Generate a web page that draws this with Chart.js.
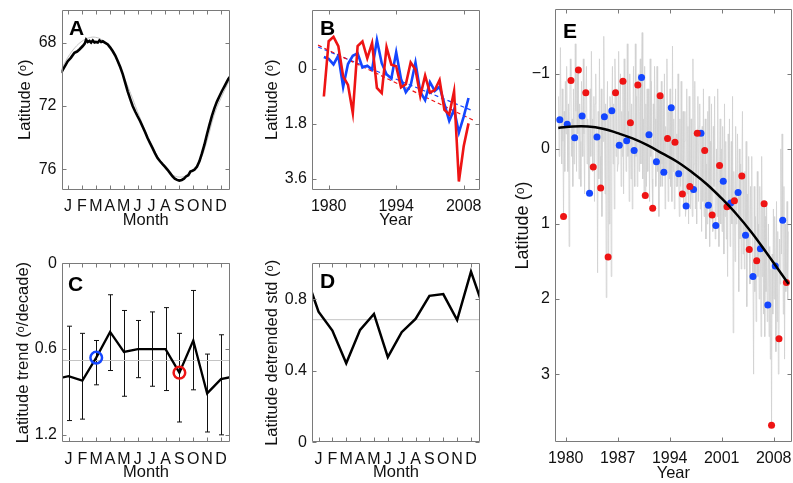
<!DOCTYPE html>
<html>
<head>
<meta charset="utf-8">
<script src="https://cdn.jsdelivr.net/npm/chart.js@4.4.1/dist/chart.umd.min.js"></script>
<style>
  html, body { margin: 0; background: #fff; }
  body { position: relative; width: 793px; height: 483px; overflow: hidden; }
  canvas { position: absolute; }
</style>
</head>
<body>
<canvas id="chartA"></canvas>
<canvas id="chartB"></canvas>
<canvas id="chartC"></canvas>
<canvas id="chartD"></canvas>
<canvas id="chartE"></canvas>
<script>
// ── Datos ──────────────────────────────────────────────────────────────────
const MONTH_LABELS = ['J', 'F', 'M', 'A', 'M', 'J', 'J', 'A', 'S', 'O', 'N', 'D'];
const MONTH_TICKS  = [1, 2, 3, 4, 5, 6, 7, 8, 9, 10, 11, 12];

// A: climatología diaria (mes fraccional, latitud)
const climMonth = [0.5, 0.98, 1.2, 1.46, 1.65, 1.82, 2.06, 2.2, 2.3, 2.42, 2.54, 2.66, 2.78, 2.9, 3.0,
  3.14, 3.26, 3.38, 3.5, 3.68, 3.86, 4.04, 4.22, 4.4, 4.58, 4.76, 4.94, 5.12, 5.29, 5.47, 5.65, 5.83,
  6.0, 6.18, 6.36, 6.54, 6.72, 6.9, 7.08, 7.26, 7.44, 7.62, 7.8, 7.98, 8.16, 8.34, 8.52, 8.68, 8.84,
  9.0, 9.18, 9.34, 9.49, 9.65, 9.8, 9.95, 10.09, 10.27, 10.45, 10.63, 10.81, 10.99, 11.17, 11.35,
  11.53, 11.71, 11.89, 12.07, 12.25, 12.4, 12.54, 12.65];
const climLat = [69.9, 69.16, 68.95, 68.63, 68.55, 68.42, 68.2, 68.05, 67.8, 67.95, 67.88, 67.98, 67.85,
  67.97, 67.94, 67.98, 67.85, 67.95, 67.9, 68.0, 68.1, 68.3, 68.53, 68.8, 69.16, 69.55, 70.0, 70.55,
  71.07, 71.55, 72.0, 72.35, 72.65, 72.95, 73.3, 73.65, 74.03, 74.35, 74.67, 75.0, 75.3, 75.5, 75.68,
  75.85, 76.04, 76.25, 76.46, 76.6, 76.68, 76.72, 76.68, 76.6, 76.46, 76.38, 76.15, 76.1, 76.04, 75.85,
  75.5, 75.0, 74.45, 73.8, 73.19, 72.62, 72.13, 71.72, 71.38, 71.05, 70.75, 70.5, 70.27, 70.15];
const climFitMonth = [0.5, 1.0, 1.5, 2.0, 2.5, 3.0, 3.5, 4.0, 4.5, 5.0, 5.5, 6.0, 6.5, 7.0, 7.5, 8.0,
  8.5, 9.0, 9.5, 10.0, 10.5, 11.0, 11.5, 12.0, 12.65];
const climFitLat = [69.7, 68.9, 68.3, 67.9, 67.68, 67.65, 67.85, 68.35, 69.1, 70.1, 71.2, 72.35, 73.45,
  74.45, 75.3, 75.95, 76.35, 76.5, 76.4, 76.0, 75.45, 74.2, 72.6, 71.5, 70.3];

// B/E: anomalías de marzo (azul) y septiembre (rojo)
const YEARS = [1979, 1980, 1981, 1982, 1983, 1984, 1985, 1986, 1987, 1988, 1989, 1990, 1991, 1992,
  1993, 1994, 1995, 1996, 1997, 1998, 1999, 2000, 2001, 2002, 2003, 2004, 2005, 2006, 2007, 2008, 2009];
const marchAnom = [-0.39, -0.33, -0.15, -0.44, 0.59, -0.16, -0.43, -0.51, -0.05, -0.11, 0.02, -0.95,
  -0.19, 0.17, 0.31, -0.55, 0.33, 0.76, 0.54, -0.21, 0.75, 1.02, 0.43, 0.72, 0.58, 1.15, 1.70, 1.33,
  2.08, 1.56, 0.95];
const septAnom = [0.90, -0.91, -1.05, -0.75, 0.24, 0.52, 1.44, -0.75, -0.90, -0.35, -0.85, 0.62, 0.79,
  -0.71, -0.14, -0.09, 0.60, 0.50, -0.21, 0.02, 0.88, 0.22, 0.77, 0.69, 0.36, 1.34, 1.49, 0.73, 3.68,
  2.53, 1.78];
const trendYears = [1977.8, 2009.9];
const marchTrend = [-0.72, 1.37];
const septTrend  = [-0.78, 1.67];

// C: tendencia por mes e intervalos
const trendByMonth = [0.79, 0.82, 0.66, 0.48, 0.62, 0.60, 0.60, 0.60, 0.765, 0.54, 0.91, 0.81];
const trendCiTop   = [0.44, 0.49, 0.54, 0.22, 0.33, 0.40, 0.34, 0.31, 0.49, 0.19, 0.635, 0.50];
const trendCiBot   = [1.10, 1.09, 0.85, 0.75, 0.93, 0.80, 0.86, 0.89, 1.11, 0.885, 1.18, 1.20];
const trendMean    = 0.68;
const ringMonths   = [3, 9];

// D: desviación estándar sin tendencia
const stdByMonth = [0.73, 0.624, 0.442, 0.628, 0.717, 0.476, 0.615, 0.689, 0.818, 0.828, 0.683, 0.953];
const stdMean    = 0.685;

// E: serie mensual (J..D por año) y ajuste
const monthlyAnom = [
  [-0.7, 0.1, -0.39, -1.35, -0.4, 0.2, -0.8, -0.1, 0.90, -0.5, 0.3, -0.9],
  [-0.2, -1.1, -0.33, 0.3, -0.6, 1.3, -0.5, -1.2, -0.91, 0.1, -0.4, 0.5],
  [-0.8, 0.2, -0.15, -1.4, -0.5, 0.3, -1.0, -0.2, -1.05, 0.4, -0.6, -0.1],
  [0.5, -0.9, -0.44, 0.1, -1.2, -0.2, 0.6, -0.5, -0.75, -1.1, 0.2, -0.4],
  [-0.3, 0.6, 0.59, -0.8, 0.1, -1.3, -0.4, 0.3, 0.24, -0.7, 0.7, -0.6],
  [-1.0, -0.2, -0.16, 1.65, -0.5, 0.4, -1.2, 0.1, 0.52, -0.8, 0.9, -0.4],
  [-0.1, -1.5, -0.43, 0.6, -0.6, 1.98, -0.2, -0.9, 1.44, -0.5, 1.0, -0.7],
  [-0.5, 1.7, -0.51, -1.1, 0.2, -0.6, 0.8, -1.2, -0.75, 0.1, -0.8, 0.3],
  [0.2, -1.3, -0.05, -0.4, -1.0, 0.5, -0.5, 0.1, -0.90, 0.6, -1.2, -0.2],
  [-0.9, 0.3, -0.11, -1.4, 0.1, -0.5, 0.7, -1.0, -0.35, 0.4, -0.6, 0.8],
  [-0.3, -1.1, 0.02, 0.5, -1.4, 0.1, -0.7, 0.5, -0.85, -1.0, 0.3, -0.5],
  [-1.2, 0.2, -0.95, -1.55, 0.4, -0.4, 0.6, -1.1, 0.62, -0.6, 0.5, -0.8],
  [0.3, -0.8, -0.19, 0.7, -1.2, 0.1, -0.9, 0.4, 0.79, -0.6, 0.0, -1.1],
  [-0.4, 0.5, 0.17, -1.1, 0.3, -0.7, 0.9, -0.5, -0.71, 0.5, -0.9, 0.2],
  [0.5, -0.7, 0.31, -1.0, 0.8, -0.3, 0.3, -1.2, -0.14, 0.7, -0.5, 0.4],
  [-0.8, 0.5, -0.55, 0.7, -1.37, 0.3, -0.4, 0.8, -0.09, -0.8, 0.5, -0.2],
  [0.5, -1.0, 0.33, 0.9, -0.4, 0.5, -0.9, 0.3, 0.60, -0.5, 0.8, -0.1],
  [-0.5, 0.9, 0.76, -0.8, 0.6, -0.3, 1.0, -0.7, 0.50, 0.8, -0.4, 0.6],
  [0.9, -1.2, 0.54, 0.2, -0.9, 0.8, -0.2, 1.0, -0.21, -0.7, 0.7, -0.3],
  [-0.6, 0.8, -0.21, 1.1, -0.3, 0.7, -0.8, 0.9, 0.02, -0.4, 1.2, 0.2],
  [1.0, -0.5, 0.75, -0.7, 1.3, -0.1, 0.9, -0.6, 0.88, 1.1, -0.3, 0.5],
  [-0.7, 1.2, 1.02, 0.0, 0.9, -0.8, 0.6, 1.3, 0.22, -0.4, 1.0, 0.0],
  [1.1, -0.3, 0.43, 1.4, -0.6, 0.9, -0.1, 1.2, 0.77, 1.7, -0.2, 0.7],
  [-0.4, 1.3, 0.72, -0.1, 1.0, -0.7, 2.45, 0.3, 0.69, 1.5, -0.3, 1.0],
  [0.6, -0.2, 0.58, 1.9, 0.0, 1.2, 0.2, 1.6, 0.36, -0.5, 1.4, 0.4],
  [1.6, 0.3, 1.15, -0.1, 2.1, 0.6, 1.3, 0.1, 1.34, 1.8, 0.5, 1.1],
  [0.1, 1.5, 1.70, 3.0, 0.5, 1.9, 0.9, 2.3, 1.49, 0.3, 1.7, 1.0],
  [2.0, 0.5, 1.33, 2.5, 0.1, 1.7, 0.7, 2.2, 0.73, 2.5, 0.9, 1.9],
  [0.7, 2.3, 2.08, 1.0, 2.5, 1.3, 2.8, 1.6, 3.68, 1.4, 2.2, 0.8],
  [2.0, 0.9, 1.56, 2.7, 0.7, 2.3, 1.1, 3.0, 2.53, 1.2, 1.8, 0.0],
  [1.4, -0.2, 0.95, 2.2, 0.5, 2.8, 1.0, 1.9, 1.78, 0.7, 2.0, 1.1],
];
const fitYears  = [1979, 1981, 1983, 1985, 1987, 1989, 1991, 1993, 1995, 1997, 1999, 2001, 2003, 2005, 2007, 2009, 2010];
const fitValues = [-0.28, -0.30, -0.30, -0.27, -0.21, -0.14, -0.05, 0.06, 0.17, 0.31, 0.47, 0.66, 0.87, 1.11, 1.38, 1.66, 1.80];

// ── Estilo ─────────────────────────────────────────────────────────────────
const RED   = '#ee1414';
const BLUE  = '#1446ff';
const GRAY  = '#c4c4c4';
const HAZE  = '#d0d0d0';
const FRAME = '#7a7a7a';
const TICK_SIZE  = 16;
const TITLE_SIZE = 16.5;
const TICK_LEN   = 4;

Chart.defaults.font.family = '"Liberation Sans", Arial, "DejaVu Sans", sans-serif';
Chart.defaults.color = '#111';

// ── Utils ──────────────────────────────────────────────────────────────────
const $ = id => document.getElementById(id);
const _num = v => v < 0 ? '\u2212' + Math.abs(v) : String(v);
const _xy = (xs, ys) => xs.map((x, i) => ({ x, y: ys[i] }));
// serie mensual cerrada: diciembre antes de enero y enero después de diciembre
const _wrap = arr => [{ x: 0, y: arr[11] }, ..._xy(MONTH_TICKS, arr), { x: 13, y: arr[0] }];

// ── Plugins ────────────────────────────────────────────────────────────────
const framePlugin = {
  id: 'frame',
  afterDatasetsDraw(chart, args, opts) {
    const { ctx, chartArea: a, scales: { x, y } } = chart;
    const L = Math.round(a.left) + 0.5, R = Math.round(a.right) - 0.5;
    const T = Math.round(a.top) + 0.5, B = Math.round(a.bottom) - 0.5;
    ctx.save();
    ctx.strokeStyle = FRAME;
    ctx.lineWidth = 1;
    ctx.beginPath();
    x.ticks.forEach(t => {
      const px = Math.round(x.getPixelForValue(t.value)) + 0.5;
      ctx.moveTo(px, B); ctx.lineTo(px, B - TICK_LEN);
      ctx.moveTo(px, T); ctx.lineTo(px, T + TICK_LEN);
    });
    y.ticks.forEach(t => {
      const py = Math.round(y.getPixelForValue(t.value)) + 0.5;
      ctx.moveTo(L, py); ctx.lineTo(L + TICK_LEN, py);
      ctx.moveTo(R, py); ctx.lineTo(R - TICK_LEN, py);
    });
    ctx.rect(L, T, R - L, B - T);
    ctx.stroke();
    if (opts.letter) {
      ctx.fillStyle = '#000';
      ctx.font = 'bold 21px "Liberation Sans", Arial, sans-serif';
      ctx.textBaseline = 'alphabetic';
      ctx.fillText(opts.letter, a.left + opts.dx, a.top + opts.dy);
    }
    ctx.restore();
  },
};

const errorBarPlugin = {
  id: 'errorBars',
  beforeDatasetsDraw(chart) {
    const { ctx, scales: { x, y } } = chart;
    ctx.save();
    ctx.strokeStyle = '#111';
    ctx.lineWidth = 1;
    ctx.beginPath();
    MONTH_TICKS.forEach((m, i) => {
      const px = Math.round(x.getPixelForValue(m)) + 0.5;
      const y0 = y.getPixelForValue(trendCiTop[i]);
      const y1 = y.getPixelForValue(trendCiBot[i]);
      ctx.moveTo(px, y0); ctx.lineTo(px, y1);
      ctx.moveTo(px - 2.5, y0); ctx.lineTo(px + 2.5, y0);
      ctx.moveTo(px - 2.5, y1); ctx.lineTo(px + 2.5, y1);
    });
    ctx.stroke();
    ctx.restore();
  },
};

// ── Paneles ────────────────────────────────────────────────────────────────
function _axis(axis, c, size, titlePad) {
  return {
    type: 'linear',
    min: c.min,
    max: c.max,
    reverse: !!c.reverse,
    grid: { display: false, drawTicks: false },
    border: { display: false },
    afterBuildTicks: s => { s.ticks = c.ticks.map(v => ({ value: v })); },
    afterFit: s => { if (axis === 'x') s.height = size; else s.width = size; },
    ticks: {
      autoSkip: false,
      maxRotation: 0,
      padding: axis === 'x' ? 7.5 : 5,
      color: '#111',
      font: { size: TICK_SIZE },
      callback: (v, i) => c.labels ? c.labels[i] : _num(v),
    },
    title: {
      display: true,
      text: c.title,
      color: '#111',
      font: { size: c.titleSize || TITLE_SIZE },
      padding: titlePad,
    },
  };
}

function _panel(id, p) {
  const cv = $(id);
  const [l, t, r, b] = p.plot;
  const left = Math.floor(l - p.yw);
  const top = Math.floor(t - 20);
  const width = Math.ceil(r + 20 - left);
  const height = Math.ceil(b + p.xh - top);
  cv.style.left = left + 'px';
  cv.style.top = top + 'px';
  cv.width = width;
  cv.height = height;

  const lh = (p.y.titleSize || TITLE_SIZE) * 1.2;
  return new Chart(cv, {
    type: 'line',
    data: { datasets: p.datasets },
    options: {
      responsive: false,
      animation: false,
      devicePixelRatio: 1,
      events: [],
      layout: { padding: { left: 0, top: t - top, right: left + width - r, bottom: top + height - b - p.xh } },
      scales: {
        x: _axis('x', p.x, p.xh, { top: 0, bottom: 0 }),
        y: _axis('y', p.y, l - left, { top: p.y.titleX - left - lh / 2, bottom: 0 }),
      },
      elements: { point: { radius: 0 }, line: { tension: 0 } },
      plugins: { legend: { display: false }, tooltip: { enabled: false }, frame: p.letter },
    },
    plugins: [framePlugin, ...(p.plugins || [])],
  });
}

const line = (data, color, width, order, extra = {}) =>
  ({ data, borderColor: color, borderWidth: width, pointRadius: 0, order, ...extra });
const dots = (data, color, r, order) =>
  ({ data, showLine: false, pointRadius: r, pointBackgroundColor: color, pointBorderWidth: 0, order });

const monthAxis = { min: 0.53, max: 12.65, ticks: MONTH_TICKS, labels: MONTH_LABELS, title: 'Month' };
const LAT = 'Latitude (\u1d52)';

// A
_panel('chartA', {
  plot: [61.5, 9.7, 230, 189.7], yw: 61.5, xh: 40.2,
  x: monthAxis,
  y: { min: 65.9, max: 77.3, reverse: true, ticks: [68, 72, 76], title: LAT, titleX: 25.2 },
  letter: { letter: 'A', dx: 7.5, dy: 25.3 },
  datasets: [
    line(_xy(climMonth, climLat), '#000', 2.6, 0),
    line(_xy(climFitMonth, climFitLat), GRAY, 1, 1, { tension: 0.4 }),
  ],
});

// B
_panel('chartB', {
  plot: [312, 9.7, 480, 189.7], yw: 62, xh: 40.2,
  x: { min: 1976.54, max: 2011.38, ticks: [1980, 1994, 2008], title: 'Year' },
  y: { min: -1.94, max: 3.95, reverse: true, ticks: [0, 1.8, 3.6], title: LAT, titleX: 272.5 },
  letter: { letter: 'B', dx: 8, dy: 25.3 },
  datasets: [
    line(_xy(YEARS, septAnom), RED, 2.6, 0),
    line(_xy(YEARS, marchAnom), BLUE, 2.6, 1),
    line(_xy(trendYears, septTrend), RED, 1.2, 2, { borderDash: [4, 3] }),
    line(_xy(trendYears, marchTrend), BLUE, 1.2, 3, { borderDash: [4, 3] }),
  ],
});

// C
_panel('chartC', {
  plot: [62, 263.3, 230, 442], yw: 62, xh: 39.9,
  x: monthAxis,
  y: { min: 0, max: 1.25, reverse: true, ticks: [0, 0.6, 1.2], title: 'Latitude trend (\u1d52/decade)', titleX: 23.5 },
  letter: { letter: 'C', dx: 6, dy: 27.4 },
  plugins: [errorBarPlugin],
  datasets: [
    { data: _xy([ringMonths[0]], [trendByMonth[ringMonths[0] - 1]]), showLine: false, pointRadius: 5.8,
      pointBorderWidth: 2.5, pointBorderColor: BLUE, pointBackgroundColor: 'rgba(0,0,0,0)', order: 0 },
    { data: _xy([ringMonths[1]], [trendByMonth[ringMonths[1] - 1]]), showLine: false, pointRadius: 5.8,
      pointBorderWidth: 2.5, pointBorderColor: RED, pointBackgroundColor: 'rgba(0,0,0,0)', order: 0 },
    line(_wrap(trendByMonth), '#000', 2.3, 1),
    line(_xy([0, 13], [trendMean, trendMean]), GRAY, 1, 2),
  ],
});

// D
_panel('chartD', {
  plot: [312, 263.3, 480, 442.3], yw: 62, xh: 39.9,
  x: monthAxis,
  y: { min: 0, max: 1.0, ticks: [0, 0.4, 0.8], title: 'Latitude detrended std (\u1d52)', titleX: 272.5 },
  letter: { letter: 'D', dx: 8, dy: 24.7 },
  datasets: [
    line(_wrap(stdByMonth), '#000', 2.5, 0),
    line(_xy([0, 13], [stdMean, stdMean]), GRAY, 1, 1),
  ],
});

// E
const monthlySeries = YEARS.flatMap((yr, i) =>
  monthlyAnom[i].map((v, m) => ({ x: yr + (m + 0.5) / 12, y: v })));

_panel('chartE', {
  plot: [555, 9.3, 791.7, 441.7], yw: 60, xh: 41.4,
  x: { min: 1978.56, max: 2010.42, ticks: [1980, 1987, 1994, 2001, 2008], title: 'Year' },
  y: { min: -1.86, max: 3.9, reverse: true, ticks: [-1, 0, 1, 2, 3], title: LAT, titleSize: 18, titleX: 523 },
  letter: { letter: 'E', dx: 8, dy: 29 },
  datasets: [
    line(_xy(fitYears, fitValues), '#000', 2.5, 0, { tension: 0.4 }),
    dots(_xy(YEARS.map(y => y + 8.5 / 12), septAnom), RED, 3.5, 1),
    dots(_xy(YEARS.map(y => y + 2.5 / 12), marchAnom), BLUE, 3.5, 1),
    line(monthlySeries, HAZE, 0.8, 2),
  ],
});
</script>
</body>
</html>
